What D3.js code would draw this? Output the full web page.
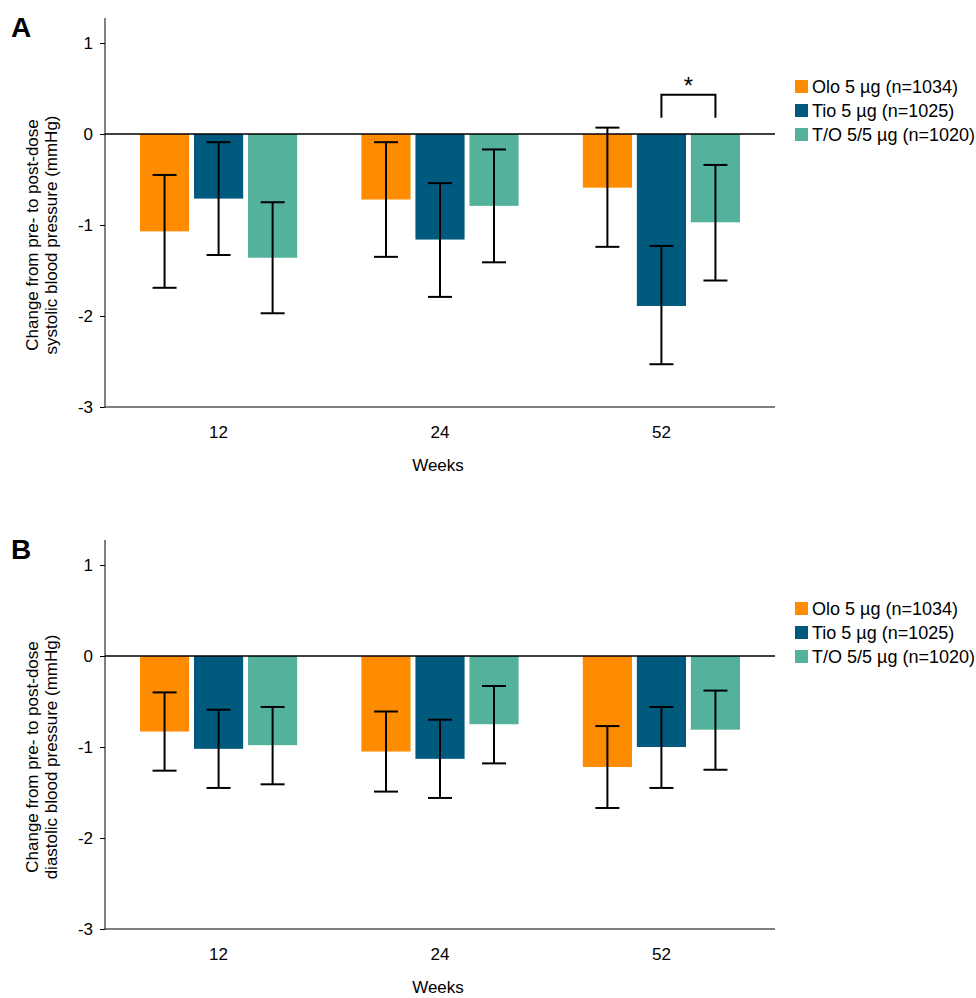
<!DOCTYPE html>
<html><head><meta charset="utf-8">
<script src="https://cdn.jsdelivr.net/npm/d3@7"></script>
<style>
body{margin:0;background:#fff;font-family:"Liberation Sans",Arial,sans-serif;}
text{font-family:"Liberation Sans",Arial,sans-serif;fill:#000;}
</style></head>
<body>
<svg id="c" width="976" height="998"></svg>
<script>
var weeks = ["12", "24", "52"];
var seriesNames = ["Olo 5 \u00b5g (n=1034)", "Tio 5 \u00b5g (n=1025)", "T/O 5/5 \u00b5g (n=1020)"];
var colors = ["#ff8c00", "#005a7d", "#54b29c"];
var yTicks = [1, 0, -1, -2, -3];

// panel A: systolic
var sysMean = [[-1.07, -0.72, -0.59], [-0.71, -1.16, -1.89], [-1.36, -0.79, -0.97]];
var sysHi   = [[-0.45, -0.09, 0.07], [-0.09, -0.54, -1.23], [-0.75, -0.17, -0.34]];
var sysLo   = [[-1.69, -1.35, -1.24], [-1.33, -1.79, -2.53], [-1.97, -1.41, -1.61]];
// panel B: diastolic
var diaMean = [[-0.83, -1.05, -1.22], [-1.02, -1.13, -1.00], [-0.98, -0.75, -0.81]];
var diaHi   = [[-0.40, -0.61, -0.77], [-0.59, -0.70, -0.56], [-0.56, -0.33, -0.38]];
var diaLo   = [[-1.26, -1.49, -1.67], [-1.45, -1.56, -1.45], [-1.41, -1.18, -1.25]];

var svg = d3.select("#c");
var FS = 17;

function panel(top, letter, line2, mean, hi, lo, sig) {
  var g = svg.append("g");
  var y = d3.scaleLinear().domain([-3, 1]).range([top + 364, top]);
  var x = d3.scaleBand().domain(weeks).range([105, 775]).paddingInner(0.29).paddingOuter(0.158);
  var xs = d3.scaleBand().domain([0, 1, 2]).range([0, x.bandwidth()]).paddingInner(0.09);

  // y axis
  var ya = g.append("g").attr("transform", "translate(105,0)")
    .call(d3.axisLeft(y).tickValues(yTicks).tickSize(5).tickSizeOuter(0).tickFormat(function (d) { return String(d); }));
  ya.select(".domain").attr("stroke", "#000").attr("d", "M0," + (top - 25) + "V" + y(-3));
  ya.selectAll("text").attr("font-size", FS).attr("dx", -4);
  // bottom axis line
  g.append("line").attr("x1", 105).attr("x2", 775).attr("y1", y(-3)).attr("y2", y(-3)).attr("stroke", "#000");
  weeks.forEach(function (w) {
    g.append("text").attr("x", x(w) + x.bandwidth() / 2).attr("y", y(-3) + 31)
      .attr("text-anchor", "middle").attr("font-size", FS).text(w);
  });

  // bars
  for (var s = 0; s < 3; s++) {
    weeks.forEach(function (w, i) {
      var bx = x(w) + xs(s), bw = xs.bandwidth(), cx = bx + bw / 2;
      g.append("rect").attr("x", bx).attr("width", bw)
        .attr("y", y(0)).attr("height", y(mean[s][i]) - y(0)).attr("fill", colors[s]);
      g.append("line").attr("x1", cx).attr("x2", cx).attr("y1", y(hi[s][i])).attr("y2", y(lo[s][i]))
        .attr("stroke", "#000").attr("stroke-width", 2);
      [hi[s][i], lo[s][i]].forEach(function (v) {
        g.append("line").attr("x1", cx - 12).attr("x2", cx + 12).attr("y1", y(v)).attr("y2", y(v))
          .attr("stroke", "#000").attr("stroke-width", 2);
      });
    });
  }
  // zero line
  g.append("line").attr("x1", 105).attr("x2", 775).attr("y1", y(0)).attr("y2", y(0))
    .attr("stroke", "#000").attr("stroke-width", 1.5);

  if (sig) {
    var c1 = x("52") + xs(1) + xs.bandwidth() / 2, c2 = x("52") + xs(2) + xs.bandwidth() / 2;
    var by = y(0.43);
    g.append("path").attr("d", "M" + c1 + "," + (by + 23) + "V" + by + "H" + c2 + "V" + (by + 23))
      .attr("fill", "none").attr("stroke", "#000").attr("stroke-width", 2);
    g.append("text").attr("x", (c1 + c2) / 2).attr("y", by - 1).attr("text-anchor", "middle")
      .attr("font-size", 24).text("*");
  }

  // y label
  var ly = (top + y(-3)) / 2 + 10;
  var t = g.append("text").attr("transform", "translate(38," + ly + ") rotate(-90)")
    .attr("text-anchor", "middle").attr("font-size", FS);
  t.append("tspan").attr("x", 0).attr("dy", 0).text("Change from pre- to post-dose");
  t.append("tspan").attr("x", 0).attr("dy", 19).text(line2);

  g.append("text").attr("x", 438).attr("y", y(-3) + 64).attr("text-anchor", "middle")
    .attr("font-size", FS).text("Weeks");
  g.append("text").attr("x", 11).attr("y", top - 6).attr("font-size", 28).attr("font-weight", "bold").text(letter);

  // legend
  seriesNames.forEach(function (n, i) {
    var ly2 = top + 44 + i * 24;
    g.append("rect").attr("x", 795).attr("y", ly2 - 7).attr("width", 13).attr("height", 13).attr("fill", colors[i]);
    g.append("text").attr("x", 812).attr("y", ly2 + 6).attr("font-size", 18).text(n);
  });
}

panel(43, "A", "systolic blood pressure (mmHg)", sysMean, sysHi, sysLo, true);
panel(565, "B", "diastolic blood pressure (mmHg)", diaMean, diaHi, diaLo, false);
</script>
</body></html>
